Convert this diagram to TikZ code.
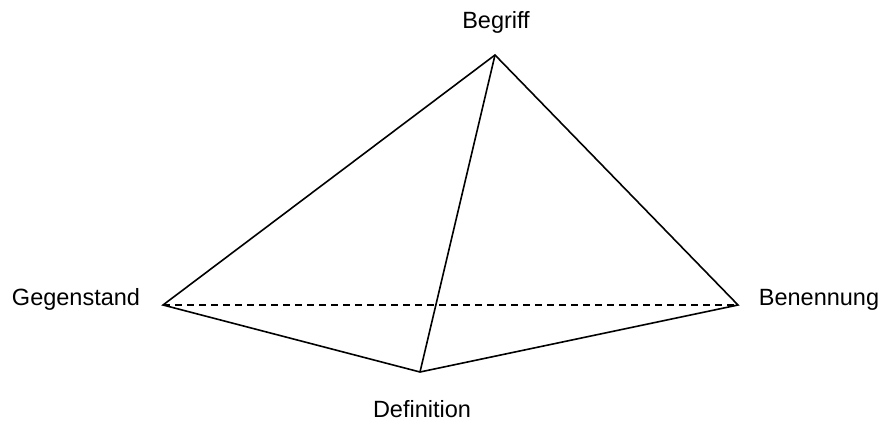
\documentclass[tikz,border=0pt]{standalone}
\usepackage{fontspec}
\setmainfont{Liberation Sans}
\begin{document}
\begin{tikzpicture}[x=1pt,y=-1pt,
  edge/.style={line width=1.6pt, line join=miter},
  hidden/.style={line width=1.6pt, dash pattern=on 7pt off 5pt},
  lbl/.style={font=\fontsize{23.5}{27}\selectfont, inner sep=0pt, anchor=base}]
\useasboundingbox (0,0) rectangle (882,421);
\coordinate (B) at (495,55);
\coordinate (G) at (163,305);
\coordinate (N) at (738,305);
\coordinate (D) at (420,372);
\draw[edge] (G) -- (B) -- (N) -- (D) -- cycle;
\draw[edge] (B) -- (D);
\draw[hidden] (G) -- (N);
\node[lbl] (tB) at (496,28) {Begriff};
\node[lbl] (tG) at (76,305) {Gegenstand};
\node[lbl] (tN) at (819,305) {Benennung};
\node[lbl, text depth=0pt] (tD) at (422,417) {Definition};
\end{tikzpicture}
\end{document}
